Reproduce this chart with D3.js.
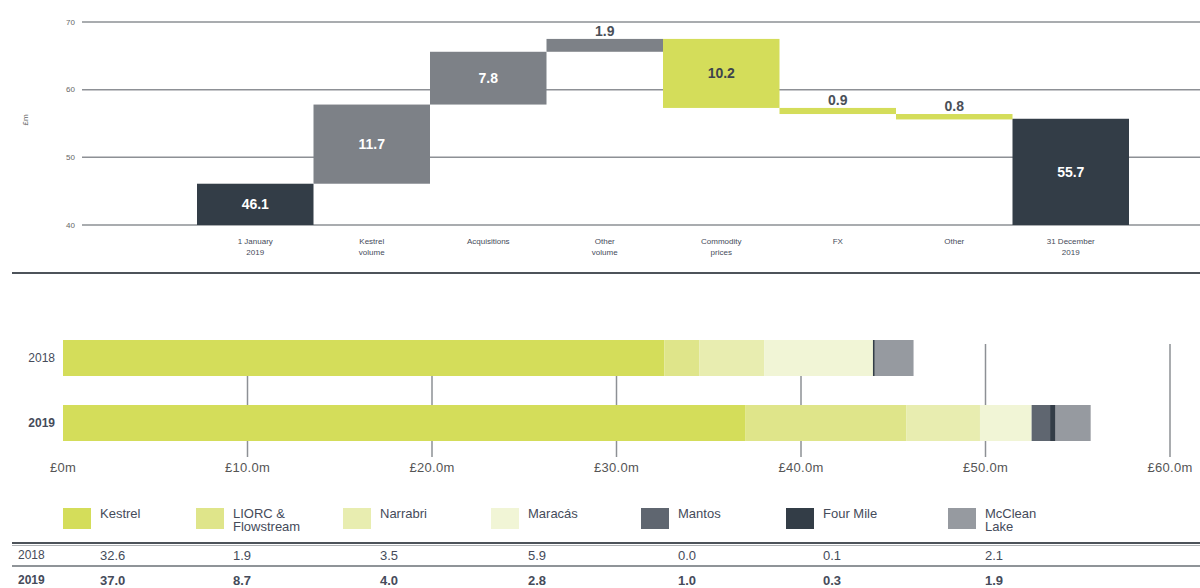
<!DOCTYPE html>
<html><head><meta charset="utf-8">
<script src="https://cdn.jsdelivr.net/npm/d3@7"></script>
<style>body{margin:0;background:#fff}svg{display:block;font-family:"Liberation Sans",Arial,sans-serif}</style>
</head><body><svg id="c" width="1200" height="588"></svg>
<script>
// ---- data ----
const wfCategories = [["1 January","2019"],["Kestrel","volume"],["Acquisitions"],["Other","volume"],["Commodity","prices"],["FX"],["Other"],["31 December","2019"]];
const wfValues = [46.1, 11.7, 7.8, 1.9, -10.2, -0.9, -0.8, 55.7];
const wfTypes = ["total","delta","delta","delta","delta","delta","delta","total"];
const wfTicks = [40, 50, 60, 70];

const years = ["2018", "2019"];
const mines = ["Kestrel", "LIORC & Flowstream", "Narrabri", "Maracás", "Mantos", "Four Mile", "McClean Lake"];
const mineLegend = [["Kestrel"],["LIORC &","Flowstream"],["Narrabri"],["Maracás"],["Mantos"],["Four Mile"],["McClean","Lake"]];
const values2018 = [32.6, 1.9, 3.5, 5.9, 0.0, 0.1, 2.1];
const values2019 = [37.0, 8.7, 4.0, 2.8, 1.0, 0.3, 1.9];
const barTicks = [0, 10, 20, 30, 40, 50, 60];

// ---- styles ----
const mineColors = ["#d4dd5a","#dfe58a","#e8edb0","#f1f5d6","#5f6670","#333d47","#969aa0"];
const textCol = "#454b5a";
const svg = d3.select("#c");

// ---- waterfall ----
const y = d3.scaleLinear().domain([40, 70]).range([225, 22]);
const x = d3.scaleBand().domain(d3.range(wfValues.length)).range([197, 1129]).padding(0);

svg.append("g").selectAll("line").data(wfTicks).join("line")
  .attr("x1", 82).attr("x2", 1200).attr("y1", d => y(d)).attr("y2", d => y(d))
  .attr("stroke", "#8d9095").attr("stroke-width", 1.5);
svg.append("g").selectAll("text").data(wfTicks).join("text")
  .attr("x", 75).attr("y", d => y(d)).attr("dy", "0.35em").attr("text-anchor", "end")
  .attr("font-size", 8).attr("fill", "#666").text(d => d);
svg.append("text").attr("transform", "translate(28,120) rotate(-90)")
  .attr("text-anchor", "middle").attr("font-size", 8).attr("fill", "#666").text("£m");

let run = 0;
const wf = wfValues.map((v, i) => {
  let a, b;
  if (wfTypes[i] === "total") { a = 40; b = v; run = v; }
  else { a = run; b = run + v; run = b; }
  return {i, v, lo: Math.min(a, b), hi: Math.max(a, b), type: wfTypes[i]};
});
const fillOf = d => d.type === "total" ? "#333d47" : (d.v > 0 ? "#7d8187" : "#d4dd5a");
svg.append("g").selectAll("rect").data(wf).join("rect")
  .attr("x", d => x(d.i)).attr("width", x.bandwidth())
  .attr("y", d => y(d.hi)).attr("height", d => y(d.lo) - y(d.hi))
  .attr("fill", fillOf);
svg.append("g").selectAll("text").data(wf).join("text")
  .attr("x", d => x(d.i) + x.bandwidth() / 2)
  .attr("y", d => (y(d.lo) - y(d.hi)) < 20 ? y(d.hi) - 8 : (y(d.lo) + y(d.hi)) / 2)
  .attr("dy", "0.35em").attr("text-anchor", "middle")
  .attr("font-size", 14).attr("font-weight", "bold")
  .attr("fill", d => (y(d.lo) - y(d.hi)) < 20 ? "#4a5058" : (d.type === "delta" && d.v < 0 ? "#3d444c" : "#fff"))
  .text(d => Math.abs(d.v).toFixed(1));
const cl = svg.append("g").selectAll("text").data(wfCategories).join("text")
  .attr("x", (d, i) => x(i) + x.bandwidth() / 2).attr("y", 244)
  .attr("text-anchor", "middle").attr("font-size", 8).attr("fill", textCol);
cl.selectAll("tspan").data(d => d).join("tspan")
  .attr("x", function() { return d3.select(this.parentNode).attr("x"); })
  .attr("dy", (d, j) => j === 0 ? 0 : 11).text(d => d);

svg.append("line").attr("x1", 12).attr("x2", 1200).attr("y1", 273).attr("y2", 273)
  .attr("stroke", "#4d535a").attr("stroke-width", 2);

// ---- stacked bars ----
const bx = d3.scaleLinear().domain([0, 60]).range([63, 1170]);
const byH = 36;
svg.append("g").selectAll("line").data(barTicks.slice(1)).join("line")
  .attr("x1", d => bx(d)).attr("x2", d => bx(d)).attr("y1", 344).attr("y2", 457)
  .attr("stroke", "#8d9095").attr("stroke-width", 1.5);
svg.append("g").selectAll("text").data(barTicks).join("text")
  .attr("x", d => bx(d)).attr("y", 467).attr("dy", "0.35em").attr("text-anchor", "middle")
  .attr("font-size", 13).attr("fill", "#555").attr("letter-spacing", 0.3)
  .text(d => d === 0 ? "£0m" : "£" + d.toFixed(1) + "m");

const rows = [values2018, values2019];
rows.forEach((vals, r) => {
  let acc = 0;
  const segs = vals.map((v, k) => { const s = {k, a: acc, b: acc + v}; acc += v; return s; });
  const top = r === 0 ? 340 : 405;
  svg.append("g").selectAll("rect").data(segs).join("rect")
    .attr("x", d => bx(d.a)).attr("width", d => bx(d.b) - bx(d.a))
    .attr("y", top).attr("height", byH).attr("fill", d => mineColors[d.k]);
  svg.append("text").attr("x", 55).attr("y", top + byH / 2).attr("dy", "0.35em")
    .attr("text-anchor", "end").attr("font-size", 12).attr("fill", textCol)
    .attr("font-weight", r === 1 ? "bold" : "normal").text(years[r]);
});

// ---- legend + table ----
const colX = [100, 233, 380, 528, 678, 823, 985];
const lg = svg.append("g").selectAll("g").data(mines).join("g");
lg.append("rect").attr("x", (d, i) => colX[i] - 37).attr("y", 508).attr("width", 28).attr("height", 21)
  .attr("fill", (d, i) => mineColors[i]);
const lt = lg.append("text").attr("x", (d, i) => colX[i]).attr("y", 518)
  .attr("font-size", 13).attr("fill", textCol);
lt.selectAll("tspan").data((d, i) => mineLegend[i]).join("tspan")
  .attr("x", function() { return d3.select(this.parentNode).attr("x"); })
  .attr("dy", (d, j) => j === 0 ? 0 : 13).text(d => d);

svg.append("line").attr("x1", 12).attr("x2", 1200).attr("y1", 543).attr("y2", 543)
  .attr("stroke", "#4d535a").attr("stroke-width", 2);
svg.append("line").attr("x1", 12).attr("x2", 1200).attr("y1", 545.5).attr("y2", 545.5)
  .attr("stroke", "#b0b3b6").attr("stroke-width", 1);
svg.append("line").attr("x1", 12).attr("x2", 1200).attr("y1", 566).attr("y2", 566)
  .attr("stroke", "#6a7076").attr("stroke-width", 1.5);

rows.forEach((vals, r) => {
  const ty = r === 0 ? 555 : 580;
  const fw = r === 1 ? "bold" : "normal";
  svg.append("text").attr("x", 18).attr("y", ty).attr("dy", "0.35em")
    .attr("font-size", 12).attr("font-weight", fw).attr("fill", textCol).text(years[r]);
  svg.append("g").selectAll("text").data(vals).join("text")
    .attr("x", (d, i) => colX[i]).attr("y", ty).attr("dy", "0.35em")
    .attr("font-size", 13).attr("font-weight", fw).attr("fill", textCol)
    .text(d => d.toFixed(1));
});
</script></body></html>
